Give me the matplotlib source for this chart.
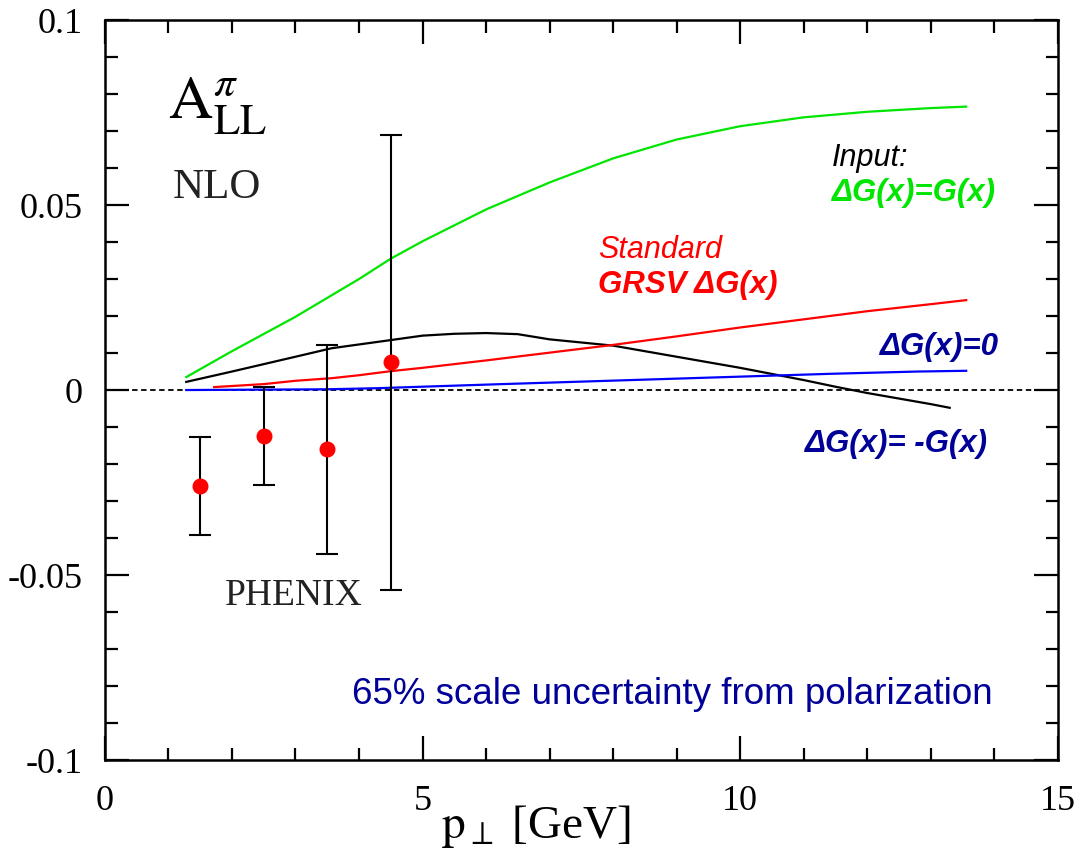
import matplotlib
matplotlib.use("Agg")
import matplotlib.pyplot as plt
from matplotlib.ticker import MultipleLocator

plt.rcParams['font.family'] = ['Liberation Serif', 'DejaVu Serif']
plt.rcParams['mathtext.fontset'] = 'stix'

# NLO curves for the different gluon polarizations
pt_green = [1.28, 2, 3, 4, 4.5, 5, 6, 7, 8, 9, 10, 11, 12, 13, 13.56]
all_green = [0.0035, 0.0105, 0.0198, 0.030, 0.0355, 0.0402, 0.0488, 0.0561, 0.0626,
             0.0677, 0.0713, 0.0737, 0.0752, 0.0762, 0.0766]

pt_black = [1.28, 2, 3, 3.57, 4.5, 5, 5.5, 6, 6.5, 7, 8, 9, 10, 11, 11.5, 12, 13, 13.3]
all_black = [0.0022, 0.005, 0.009, 0.0113, 0.0135, 0.0147, 0.0152, 0.0154, 0.0151,
             0.0137, 0.012, 0.009, 0.006, 0.0027, 0.0009, -0.0008, -0.0038, -0.0048]

pt_red = [1.72, 2.5, 3, 3.57, 4, 4.5, 5, 6, 7, 8, 9, 10, 11, 12, 13, 13.56]
all_red = [0.0008, 0.0016, 0.0025, 0.0032, 0.004, 0.0051, 0.006, 0.008, 0.0101,
           0.0122, 0.0145, 0.0169, 0.0191, 0.0213, 0.0232, 0.0243]

pt_blue = [1.28, 3.5, 4.3, 5.0, 6.25, 7.55, 8.85, 10.15, 11.45, 12.8, 13.56]
all_blue = [0.0, 0.0002, 0.0005, 0.0009, 0.0016, 0.0023, 0.003, 0.0037, 0.0044,
            0.005, 0.0052]

# PHENIX data
pt_data = [1.5, 2.5, 3.5, 4.5]
all_data = [-0.026, -0.0125, -0.016, 0.0075]
err_data = [0.0132, 0.0132, 0.0283, 0.0615]

green = '#00e600'
navy = '#000099'

fig = plt.figure(figsize=(10.82, 8.49), dpi=100)
ax = fig.add_axes([0.097, 0.1048, 0.8805, 0.8716])

ax.axhline(0, color='black', lw=1.3, ls=(0, (3, 2)), zorder=1)
ax.plot(pt_green, all_green, color=green, lw=1.6)
ax.plot(pt_black, all_black, color='black', lw=1.6)
ax.plot(pt_red, all_red, color='red', lw=1.6)
ax.plot(pt_blue, all_blue, color='blue', lw=1.6)

ax.errorbar(pt_data, all_data, yerr=err_data, fmt='none', ecolor='black',
            elinewidth=1.5, capsize=8, capthick=1.5, zorder=3)
ax.plot(pt_data, all_data, 'o', color='red', ms=10.5, zorder=4)

ax.set_xlim(0, 15)
ax.set_ylim(-0.1, 0.1)
ax.set_xticks([0, 5, 10, 15])
ax.set_yticks([-0.1, -0.05, 0, 0.05, 0.1])
ax.set_yticklabels(['-0.1', '-0.05', '0', '0.05', '0.1'])
ax.xaxis.set_minor_locator(MultipleLocator(1))
ax.yaxis.set_minor_locator(MultipleLocator(0.01))
ax.tick_params(which='both', direction='in', top=True, right=True, width=1.6,
               labelsize=26, colors='black')
ax.tick_params(which='major', length=17)
ax.tick_params(which='minor', length=9)
ax.tick_params(axis='y', pad=16)
ax.tick_params(axis='x', pad=18)
for s in ax.spines.values():
    s.set_linewidth(1.8)

ax.set_xlabel(r'$\mathrm{p}_{\perp}$ [GeV]', fontsize=34)
ax.xaxis.set_label_coords(0.452, -0.058)

ax.text(0.99, 0.0733, r'$\mathrm{A}^{\pi}_{\mathrm{LL}}$', fontsize=44, va='baseline')
ax.text(1.06, 0.0518, 'NLO', fontsize=31, va='baseline', color='#222222')
ax.text(1.89, -0.058, 'PHENIX', fontsize=27, va='baseline', color='#222222')

sans = ['Liberation Sans', 'DejaVu Sans']
ax.text(11.45, 0.0606, 'Input:', family=sans, style='italic', fontsize=22,
        va='baseline')
ax.text(11.45, 0.0512, 'ΔG(x)=G(x)', family=sans, style='italic', weight='bold',
        fontsize=22.5, color=green, va='baseline')
ax.text(7.76, 0.0358, 'Standard', family=sans, style='italic', fontsize=22,
        color='red', va='baseline')
ax.text(7.76, 0.0261, 'GRSV ΔG(x)', family=sans, style='italic', weight='bold',
        fontsize=22.5, color='red', va='baseline')
ax.text(12.2, 0.0094, 'ΔG(x)=0', family=sans, style='italic', weight='bold',
        fontsize=22.5, color=navy, va='baseline')
ax.text(11.02, -0.0167, 'ΔG(x)= -G(x)', family=sans, style='italic', weight='bold',
        fontsize=22.5, color=navy, va='baseline')
ax.text(3.89, -0.0849, '65% scale uncertainty from polarization', family=sans,
        fontsize=26.5, color=navy, va='baseline')

fig.savefig('out.png', dpi=100)
